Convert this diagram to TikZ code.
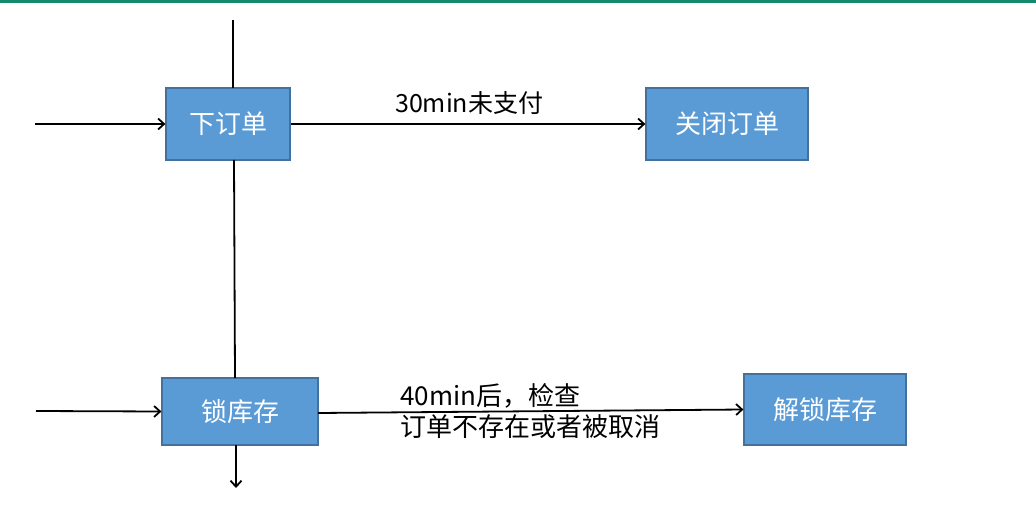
\documentclass[tikz,border=0pt]{standalone}
\usepackage{fontspec}
\setmainfont{Noto Sans CJK SC}
\usetikzlibrary{arrows.meta}
\definecolor{boxfill}{HTML}{5B9BD5}
\definecolor{boxdraw}{HTML}{41719C}
\definecolor{topline}{HTML}{14896E}
\begin{document}
\begin{tikzpicture}[x=1pt,y=-1pt,
  box/.style={draw=boxdraw,line width=1.2pt,fill=boxfill,text=white,font=\fontsize{26}{30}\selectfont,inner sep=0pt},
  conn/.style={line width=1.8pt,-{Straight Barb[length=6pt,width=11pt,line width=1.8pt]}},
  plain/.style={line width=1.8pt},
  lbl/.style={font=\fontsize{25}{31}\selectfont,inner sep=0pt,align=left}]
\useasboundingbox (0,0) rectangle (1036,532);
\fill[topline] (0,0) rectangle (1036,3);
\node[box,minimum width=124pt,minimum height=72pt] (order) at (228,124) {下订单};
\node[box,minimum width=162pt,minimum height=72pt] (close) at (727,124) {关闭订单};
\node[box,minimum width=156pt,minimum height=67pt] (lock) at (240,411.5) {锁库存};
\node[box,minimum width=162pt,minimum height=71pt] (unlock) at (825,409.5) {解锁库存};
\coordinate (top) at (233,20);
\coordinate (in1) at (35,124);
\coordinate (in2) at (36,411);
\coordinate (bot) at (236,488);
\draw[plain] (top) -- (233,88);
\draw[plain] (234,160) -- (235,378);
\draw[conn] (236,445) -- (bot);
\draw[conn] (in1) -- (order.west);
\draw[conn] (in2) -- (lock.west);
\draw[conn] (order.east) -- (close.west);
\draw[conn] (318,413) -- (unlock.west);
\node[lbl,anchor=south west] (l1) at (395,115) {30min未支付};
\node[lbl,anchor=west,font=\fontsize{26}{31}\selectfont] (l2) at (400,411) {40min后，检查\\订单不存在或者被取消};
\end{tikzpicture}
\end{document}
